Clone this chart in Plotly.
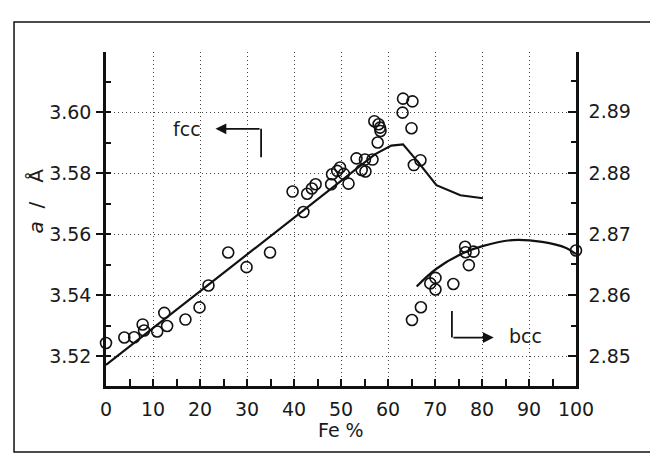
import plotly.graph_objects as go

# ---- data ----
fcc_fe = [0.0, 3.9, 6.0, 7.8, 8.1, 10.9, 12.4, 13.0, 16.9, 19.9, 21.8, 26.0, 29.9, 34.9,
          39.7, 42.0, 42.8, 43.8, 44.6, 47.9, 48.1, 49.2, 49.8, 50.6, 51.6, 53.3, 54.4,
          55.2, 55.1, 56.7, 57.8, 57.1, 58.0, 58.3, 58.4, 63.1, 63.2, 65.2, 65.0, 65.5, 66.9]
fcc_a = [3.5243, 3.5261, 3.5262, 3.5304, 3.5284, 3.5281, 3.5342, 3.5299, 3.5320, 3.5360,
         3.5432, 3.5540, 3.5492, 3.5540, 3.5740, 3.5673, 3.5733, 3.5750, 3.5764, 3.5764,
         3.5797, 3.5808, 3.5819, 3.5798, 3.5766, 3.5849, 3.5811, 3.5806, 3.5845, 3.5845,
         3.5901, 3.5971, 3.5961, 3.5950, 3.5939, 3.5999, 3.6045, 3.6036, 3.5948, 3.5827, 3.5843]

fcc_line_fe = [0.0, 57.2, 60.7, 63.2, 66.5, 70.3, 75.4, 80.2]
fcc_line_a = [3.5171, 3.5862, 3.5891, 3.5895, 3.5835, 3.5761, 3.5728, 3.5718]

bcc_fe = [65.1, 67.0, 69.0, 70.1, 70.1, 73.9, 76.4, 76.5, 78.2, 77.2, 100.0]
bcc_a = [2.8559, 2.8580, 2.8619, 2.8628, 2.8609, 2.8618, 2.8679, 2.8670, 2.8671, 2.8649, 2.8673]

bcc_line_fe = [66.1, 70.3, 75.8, 80.1, 86.4, 92.8, 97.9, 100.0]
bcc_line_a = [2.8614, 2.8643, 2.8668, 2.8680, 2.8690, 2.8687, 2.8677, 2.8667]

x_range = [0, 100]
left_range = [3.5102, 3.6198]
right_range = [2.8451, 2.8998]

FONT = "DejaVu Sans"
INK = "#111111"
TXT = "#1a1a1a"

fig = go.Figure()

marker = dict(symbol="circle-open", size=11, color=INK, line=dict(width=1.6, color=INK))

fig.add_trace(go.Scatter(x=fcc_line_fe, y=fcc_line_a, mode="lines",
                         line=dict(color=INK, width=2.2), showlegend=False, hoverinfo="skip"))
fig.add_trace(go.Scatter(x=fcc_fe, y=fcc_a, mode="markers", marker=marker,
                         showlegend=False, cliponaxis=False))
fig.add_trace(go.Scatter(x=bcc_line_fe, y=bcc_line_a, mode="lines", yaxis="y2",
                         line=dict(color=INK, width=2.2, shape="spline"),
                         showlegend=False, hoverinfo="skip"))
fig.add_trace(go.Scatter(x=bcc_fe, y=bcc_a, mode="markers", marker=marker, yaxis="y2",
                         showlegend=False, cliponaxis=False))

tickfont = dict(family=FONT, size=19, color=TXT)
GRID = dict(showgrid=True, gridcolor="#444444", griddash="1px,3px", gridwidth=1.2)

fig.update_layout(
    width=650, height=463,
    margin=dict(l=98, r=82, t=44, b=85),
    paper_bgcolor="white", plot_bgcolor="white",
    font=dict(family=FONT, color=INK),
    xaxis=dict(range=x_range, dtick=10, tick0=0, ticks="inside", ticklen=7, tickwidth=2,
               tickcolor=INK, showline=True, linewidth=2.5, linecolor=INK,
               minor=dict(dtick=5, ticks="inside", ticklen=7, tickwidth=2, tickcolor=INK,
                          showgrid=False),
               tickfont=tickfont, ticklabelstandoff=4, zeroline=False, **GRID),
    xaxis2=dict(range=x_range, overlaying="x", side="top", dtick=10, tick0=0,
                ticks="inside", ticklen=6, tickwidth=2, tickcolor=INK,
                showline=True, linewidth=2.5, linecolor=INK, showgrid=False,
                showticklabels=False, zeroline=False),
    yaxis=dict(range=left_range, dtick=0.02, tick0=3.52, tickformat=".2f",
               ticks="outside", ticklen=7, tickwidth=2, tickcolor=INK,
               showline=True, linewidth=2.5, linecolor=INK,
               minor=dict(dtick=0.01, tick0=3.52, ticks="inside", ticklen=5, tickwidth=2,
                          tickcolor=INK, showgrid=False),
               tickfont=tickfont, ticklabelstandoff=1, zeroline=False, **GRID),
    yaxis2=dict(range=right_range, overlaying="y", side="right", dtick=0.01, tick0=2.85,
                tickformat=".2f", ticks="inside", ticklen=8, tickwidth=2, tickcolor=INK,
                showline=True, linewidth=2.5, linecolor=INK, showgrid=False,
                minor=dict(dtick=0.005, tick0=2.85, ticks="inside", ticklen=5, tickwidth=2,
                           tickcolor=INK, showgrid=False),
                tickfont=tickfont, ticklabelstandoff=6, zeroline=False),
)

# axis titles
fig.add_annotation(text="<i>a</i>\u00a0\u00a0/\u00a0\u00a0\u00a0Å", xref="paper", yref="paper",
                   x=-0.150, y=0.554, xanchor="center", yanchor="middle", textangle=-90,
                   showarrow=False, font=dict(family=FONT, size=20, color=TXT))
fig.add_annotation(text="Fe %", xref="paper", yref="paper", x=0.5, y=-0.132,
                   xanchor="center", yanchor="middle", showarrow=False,
                   font=dict(family=FONT, size=19, color=TXT))

# fcc label and bent arrow
fig.add_annotation(text="fcc", x=17.3, y=3.5945, xref="x", yref="y", showarrow=False,
                   xanchor="center", yanchor="middle",
                   font=dict(family=FONT, size=19, color=TXT))
fig.add_shape(type="line", xref="x", yref="y", x0=33.0, y0=3.5853, x1=33.0, y1=3.5946,
              line=dict(color=INK, width=1.8))
fig.add_annotation(x=23.3, y=3.5946, ax=33.0, ay=3.5946, xref="x", yref="y",
                   axref="x", ayref="y", text="", showarrow=True, arrowhead=2,
                   arrowsize=1.2, arrowwidth=1.8, arrowcolor=INK)

# bcc label and bent arrow
fig.add_annotation(text="bcc", x=89.3, y=3.5265, xref="x", yref="y", showarrow=False,
                   xanchor="center", yanchor="middle",
                   font=dict(family=FONT, size=19, color=TXT))
fig.add_shape(type="line", xref="x", yref="y", x0=73.6, y0=3.5348, x1=73.6, y1=3.5261,
              line=dict(color=INK, width=1.8))
fig.add_annotation(x=82.5, y=3.5261, ax=73.6, ay=3.5261, xref="x", yref="y",
                   axref="x", ayref="y", text="", showarrow=True, arrowhead=2,
                   arrowsize=1.2, arrowwidth=1.8, arrowcolor=INK)

# outer frame of the figure
fig.add_shape(type="rect", xref="paper", yref="paper", x0=-0.1957, x1=1.1617,
              y0=-0.1976, y1=1.0898, line=dict(color=INK, width=1.5))

fig.write_html("out.html")
